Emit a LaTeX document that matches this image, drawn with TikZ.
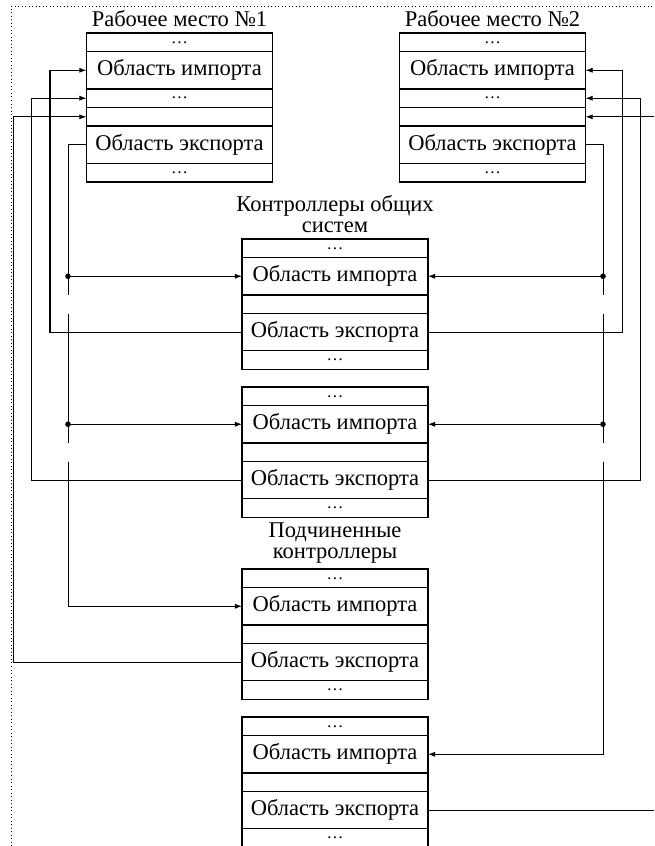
\documentclass[tikz,border=0pt]{standalone}
\usepackage{fontspec}
\setmainfont{Liberation Serif}
\usetikzlibrary{positioning,arrows.meta}

\begin{document}
\begin{tikzpicture}[x=0.025cm, y=-0.025cm,
    font=\fontsize{16}{15}\selectfont,
    cell/.style={draw, line width=0.9pt, minimum width=4.65cm, minimum height=0.465cm, inner sep=0pt, outer sep=0pt},
    bigcell/.style={cell, minimum height=0.9325cm},
    dotcell/.style={cell, font=\fontsize{12}{12}\selectfont},
    title/.style={inner sep=1pt},
    link/.style={line width=0.6pt},
    arr/.style={link, -{Latex[length=1.8mm,width=1.3mm]}},
    tap/.style={circle, fill, inner sep=1.4pt}]
    \useasboundingbox (0,0) rectangle (654,846);

    % Dotted frame
    \draw[dotted, line width=0.5pt] (11,846) -- (11,6) -- (654,6);

    % Columns of the vertical lines
    \coordinate (l0) at (13,0);
    \coordinate (l1) at (31,0);
    \coordinate (l2) at (50,0);
    \coordinate (l3) at (68,0);
    \coordinate (r3) at (603,0);
    \coordinate (r2) at (622,0);
    \coordinate (r1) at (640,0);
    \coordinate (r0) at (654,0);

    % Workstation 1
    \node[title] (w1title) at (179.5,19) {Рабочее место №1};
    \node[dotcell, anchor=north] (w1a) at (179.5,33) {\dots};
    \node[bigcell, below=0pt of w1a] (w1imp) {Область импорта};
    \node[dotcell, below=0pt of w1imp] (w1b) {\dots};
    \node[cell, below=0pt of w1b] (w1c) {};
    \node[bigcell, below=0pt of w1c] (w1exp) {Область экспорта};
    \node[dotcell, below=0pt of w1exp] (w1d) {\dots};

    % Workstation 2
    \node[title] (w2title) at (492.5,19) {Рабочее место №2};
    \node[dotcell, anchor=north] (w2a) at (492.5,33) {\dots};
    \node[bigcell, below=0pt of w2a] (w2imp) {Область импорта};
    \node[dotcell, below=0pt of w2imp] (w2b) {\dots};
    \node[cell, below=0pt of w2b] (w2c) {};
    \node[bigcell, below=0pt of w2c] (w2exp) {Область экспорта};
    \node[dotcell, below=0pt of w2exp] (w2d) {\dots};

    % Common system controllers
    \node[title, align=center] (ctitle) at (335,214) {Контроллеры общих\\систем};
    \node[dotcell, anchor=north] (c1a) at (335,239) {\dots};
    \node[bigcell, below=0pt of c1a] (c1imp) {Область импорта};
    \node[cell, below=0pt of c1imp] (c1e) {};
    \node[bigcell, below=0pt of c1e] (c1exp) {Область экспорта};
    \node[dotcell, below=0pt of c1exp] (c1b) {\dots};

    \node[dotcell, anchor=north] (c2a) at (335,387) {\dots};
    \node[bigcell, below=0pt of c2a] (c2imp) {Область импорта};
    \node[cell, below=0pt of c2imp] (c2e) {};
    \node[bigcell, below=0pt of c2e] (c2exp) {Область экспорта};
    \node[dotcell, below=0pt of c2exp] (c2b) {\dots};

    % Subordinate controllers
    \node[title, align=center] (stitle) at (335,543) {Подчиненные\\контроллеры};
    \node[dotcell, anchor=north] (sa) at (335,569) {\dots};
    \node[bigcell, below=0pt of sa] (simp) {Область импорта};
    \node[cell, below=0pt of simp] (se) {};
    \node[bigcell, below=0pt of se] (sexp) {Область экспорта};
    \node[dotcell, below=0pt of sexp] (sb) {\dots};

    \node[dotcell, anchor=north] (da) at (335,717) {\dots};
    \node[bigcell, below=0pt of da] (dimp) {Область импорта};
    \node[cell, below=0pt of dimp] (de) {};
    \node[bigcell, below=0pt of de] (dexp) {Область экспорта};
    \node[dotcell, below=0pt of dexp] (db) {\dots};

    % Exports into workstation 1
    \draw[arr] (sexp.west) -| (l0 |- w1c.west) -- (w1c.west);
    \draw[arr] (c2exp.west) -| (l1 |- w1b.west) -- (w1b.west);
    \draw[arr, line width=0.9pt] (c1exp.west) -| (l2 |- w1imp.west) -- (w1imp.west);

    % Workstation 1 export bus
    \draw[link] (w1exp.west) -| (l3 |- c1imp.south);
    \draw[link] (l3 |- c1e.south) -- (l3 |- c2imp.south);
    \draw[arr] (l3 |- c2e.south) |- (simp.west);
    \draw[arr] (l3 |- c1imp.west) node[tap] (t1) {} -- (c1imp.west);
    \draw[arr] (l3 |- c2imp.west) node[tap] (t2) {} -- (c2imp.west);

    % Exports into workstation 2
    \draw[arr] (c1exp.east) -| (r2 |- w2imp.east) -- (w2imp.east);
    \draw[arr] (c2exp.east) -| (r1 |- w2b.east) -- (w2b.east);
    \draw[arr] (w2c.east -| r0) -- (w2c.east);
    \draw[link] (dexp.east) -- (dexp.east -| r0);

    % Workstation 2 export bus
    \draw[link] (w2exp.east) -| (r3 |- c1imp.south);
    \draw[link] (r3 |- c1e.south) -- (r3 |- c2imp.south);
    \draw[arr] (r3 |- c2e.south) |- (dimp.east);
    \draw[arr] (r3 |- c1imp.east) node[tap] (t3) {} -- (c1imp.east);
    \draw[arr] (r3 |- c2imp.east) node[tap] (t4) {} -- (c2imp.east);
\end{tikzpicture}
\end{document}
